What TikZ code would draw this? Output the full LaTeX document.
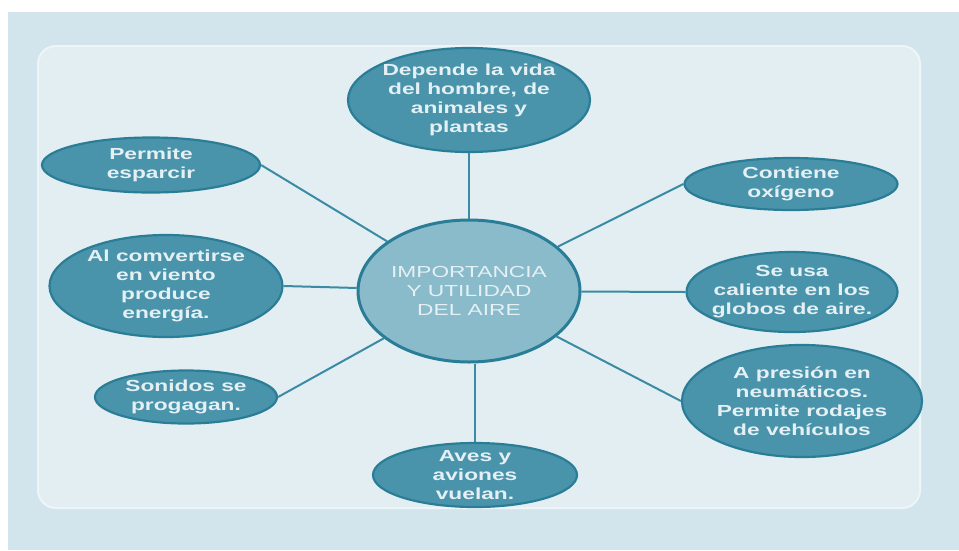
\documentclass[tikz,border=0pt]{standalone}
\usepackage{fontspec}
\setmainfont{Liberation Sans}[FakeStretch=1.42]
\usetikzlibrary{shapes.geometric}

\definecolor{framefill}{HTML}{D3E5EC}
\definecolor{panefill}{HTML}{E3EEF2}
\definecolor{paneline}{HTML}{EEF5F8}
\definecolor{ideafill}{HTML}{4A94AB}
\definecolor{idealine}{HTML}{2A7D96}
\definecolor{ideatext}{HTML}{E4F0F4}
\definecolor{hubfill}{HTML}{8ABBCB}
\definecolor{linkcol}{HTML}{3A8BA3}

\begin{document}
\begin{tikzpicture}[x=1pt,y=-1pt,
    idea/.style={ellipse,draw=idealine,line width=2.2pt,fill=ideafill,text=ideatext,
      inner sep=-10pt,align=center,font=\fontsize{16}{19}\selectfont\bfseries},
    hub/.style={idea,fill=hubfill,line width=3pt,font=\fontsize{16}{19}\selectfont},
    link/.style={draw=linkcol,line width=2pt}]
    \useasboundingbox (0,0) rectangle (959,550);
    % frame and pane
    \fill[framefill] (8,12) rectangle (959,550);
    \draw[paneline,fill=panefill,line width=2pt,rounded corners=18pt] (38,46) rectangle (920,508);

    \node[hub,minimum width=222pt,minimum height=142pt] (aire) at (469,291) {IMPORTANCIA\\Y UTILIDAD\\DEL AIRE};

    \node[idea,minimum width=242pt,minimum height=104pt] (vida) at (469,100) {Depende la vida\\del hombre, de\\animales y\\plantas};
    \node[idea,minimum width=213pt,minimum height=52pt] (oxigeno) at (791,184) {Contiene\\oxígeno};
    \node[idea,minimum width=211pt,minimum height=80pt] (globos) at (792,292) {Se usa\\caliente en los\\globos de aire.};
    \node[idea,minimum width=240pt,minimum height=112pt] (presion) at (802,401) {A presión en\\neumáticos.\\Permite rodajes\\de vehículos};
    \node[idea,minimum width=204pt,minimum height=64pt] (aves) at (475,475) {Aves y\\aviones\\vuelan.};
    \node[idea,minimum width=182pt,minimum height=53pt] (sonidos) at (186,397) {Sonidos se\\progagan.};
    \node[idea,minimum width=233pt,minimum height=102pt] (viento) at (166,286) {Al comvertirse\\en viento\\produce\\energía.};
    \node[idea,minimum width=218pt,minimum height=55pt] (esparcir) at (151,165) {Permite\\esparcir};

    % spokes
    \draw[link] (aire) -- (vida);
    \draw[link] (aire) -- (oxigeno.west);
    \draw[link] (aire) -- (globos.west);
    \draw[link] (aire) -- (presion.west);
    \draw[link] (aves.north |- aire.south) -- (aves.north);
    \draw[link] (aire) -- (sonidos.east);
    \draw[link] (aire) -- (viento.east);
    \draw[link] (aire) -- (esparcir.east);
\end{tikzpicture}
\end{document}
